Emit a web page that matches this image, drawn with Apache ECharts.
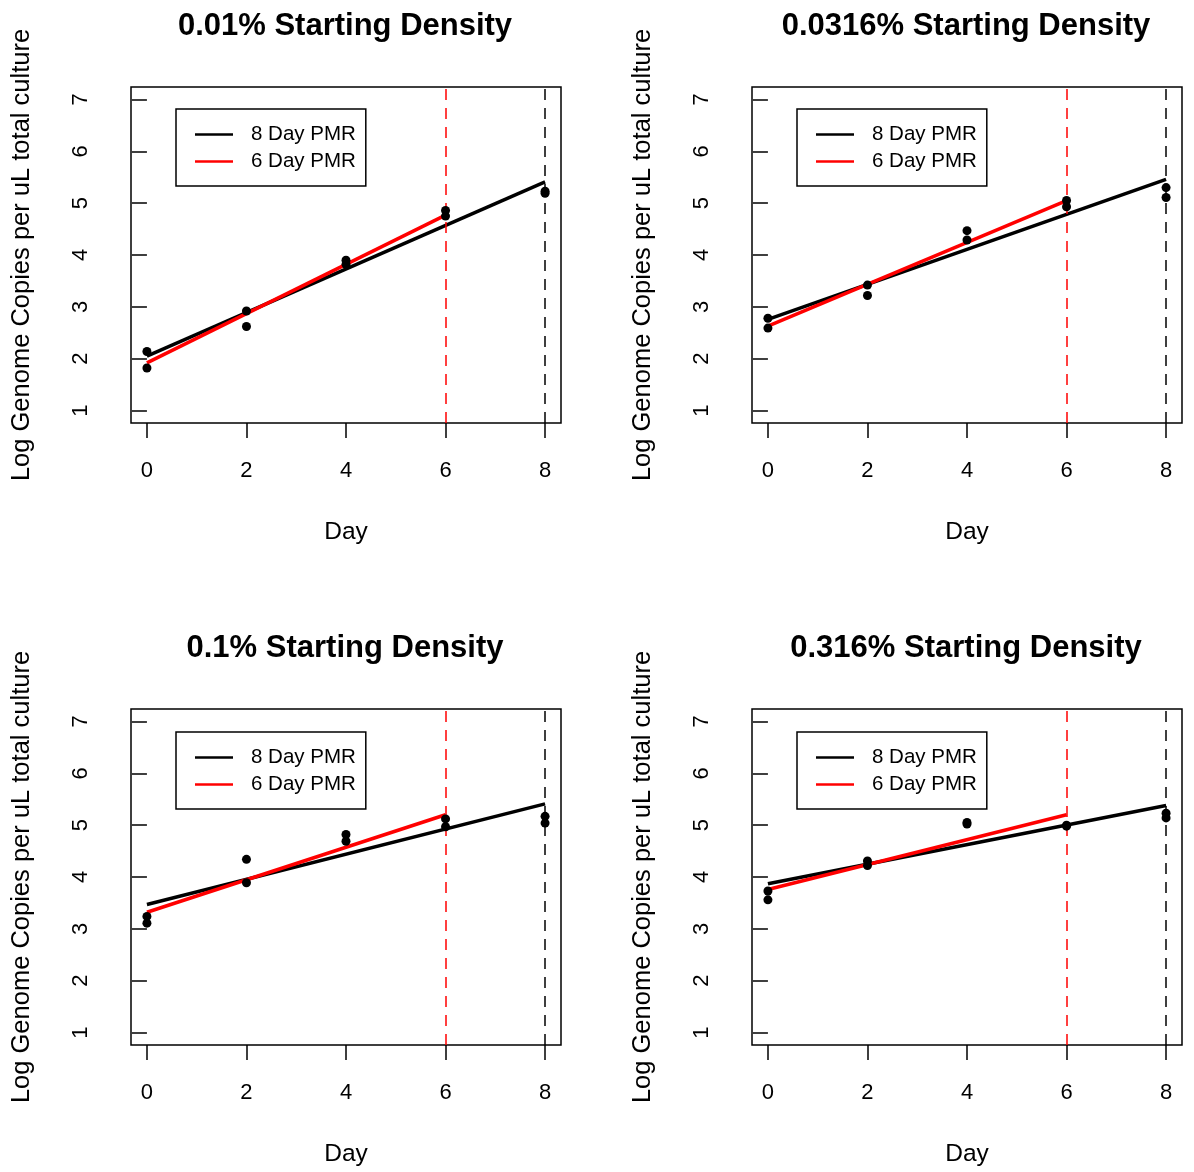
<!DOCTYPE html>
<html>
<head>
<meta charset="utf-8">
<script src="https://cdn.jsdelivr.net/npm/echarts@6/dist/echarts.min.js"></script>
<style>
html,body{margin:0;padding:0;background:#fff;}
#chart{width:1194px;height:1172px;}
</style>
</head>
<body>
<div id="chart"></div>
<script>
// ---- data ----
const days = [0, 2, 4, 6, 8];
const xTicks = [0, 2, 4, 6, 8];
const yTicks = [1, 2, 3, 4, 5, 6, 7];
const titles = ['0.01% Starting Density', '0.0316% Starting Density', '0.1% Starting Density', '0.316% Starting Density'];
const seriesNames = ['8 Day PMR', '6 Day PMR'];
const yTitle = 'Log Genome Copies per uL total culture';
const xTitle = 'Day';

// replicate measurements (log genome copies) per panel
const p1RepA = [2.14, 2.92, 3.90, 4.86, 5.23];
const p1RepB = [1.82, 2.62, 3.82, 4.75, 5.19];
const p2RepA = [2.78, 3.42, 4.47, 5.05, 5.30];
const p2RepB = [2.59, 3.22, 4.29, 4.93, 5.11];
const p3RepA = [3.24, 4.34, 4.82, 5.12, 5.17];
const p3RepB = [3.11, 3.89, 4.69, 4.97, 5.04];
const p4RepA = [3.73, 4.31, 5.05, 5.00, 5.23];
const p4RepB = [3.56, 4.22, 5.02, 4.98, 5.14];

// fitted lines: [value at day 0, value at end day]
const fit8Days = [0, 8];
const fit6Days = [0, 6];
const p1Fit8 = [2.05, 5.41], p1Fit6 = [1.92, 4.77];
const p2Fit8 = [2.76, 5.46], p2Fit6 = [2.63, 5.05];
const p3Fit8 = [3.47, 5.41], p3Fit6 = [3.32, 5.20];
const p4Fit8 = [3.87, 5.38], p4Fit6 = [3.76, 5.20];

const cutoffs = [6, 8];

const panelData = [
  {reps: [p1RepA, p1RepB], fit8: p1Fit8, fit6: p1Fit6},
  {reps: [p2RepA, p2RepB], fit8: p2Fit8, fit6: p2Fit6},
  {reps: [p3RepA, p3RepB], fit8: p3Fit8, fit6: p3Fit6},
  {reps: [p4RepA, p4RepB], fit8: p4Fit8, fit6: p4Fit6}
];

// ---- layout ----
const FONT = '"Liberation Sans", Arial, Helvetica, sans-serif';
const gridPos = [
  {left: 131, top: 87}, {left: 752, top: 87},
  {left: 131, top: 709}, {left: 752, top: 709}
];
const GW = 430, GH = 336;
const titleCenters = [340, 961, 340, 961];
const titleTops = [6, 6, 628, 628];
const legendPos = [
  {left: 176, top: 109}, {left: 797, top: 109},
  {left: 176, top: 732}, {left: 797, top: 732}
];

const option = {
  animation: false,
  backgroundColor: '#fff',
  title: [], grid: [], xAxis: [], yAxis: [], series: [], legend: []
};

panelData.forEach((p, i) => {
  option.title.push({
    text: titles[i], left: titleCenters[i], top: titleTops[i], textAlign: 'center',
    textStyle: {fontFamily: FONT, fontWeight: 'bold', fontSize: 31, color: '#000'}
  });
  option.grid.push({
    left: gridPos[i].left, top: gridPos[i].top, width: GW, height: GH,
    show: true, borderColor: '#000', borderWidth: 1.5, backgroundColor: 'transparent'
  });
  option.xAxis.push({
    gridIndex: i, type: 'value', min: -0.32, max: 8.32,
    name: xTitle, nameLocation: 'middle', nameGap: 97,
    nameTextStyle: {fontFamily: FONT, fontSize: 24.5, color: '#000'},
    axisLine: {show: false},
    splitLine: {show: false},
    axisTick: {show: true, inside: false, length: 15, customValues: xTicks, lineStyle: {color: '#000', width: 1.5}},
    axisLabel: {customValues: xTicks, margin: 37, fontFamily: FONT, fontSize: 22, color: '#000'}
  });
  option.yAxis.push({
    gridIndex: i, type: 'value', min: 0.76, max: 7.24,
    name: yTitle, nameLocation: 'middle', nameGap: 96, nameRotate: 90,
    nameTextStyle: {fontFamily: FONT, fontSize: 25.5, color: '#000'},
    axisLine: {show: false},
    splitLine: {show: false},
    axisTick: {show: true, inside: false, length: 15, customValues: yTicks, lineStyle: {color: '#000', width: 1.5}},
    axisLabel: {customValues: yTicks, rotate: 90, margin: 39, fontFamily: FONT, fontSize: 22, color: '#000'}
  });
  // cutoff dashed lines + points
  const pts = [];
  p.reps.forEach(r => r.forEach((v, k) => pts.push([days[k], v])));
  option.series.push({
    type: 'scatter', name: 'obs' + i, xAxisIndex: i, yAxisIndex: i,
    data: pts, symbol: 'circle', symbolSize: 9, itemStyle: {color: '#000', opacity: 1}, z: 5,
    markLine: {
      silent: true, symbol: ['none', 'none'], label: {show: false},
      data: [
        {xAxis: cutoffs[0], lineStyle: {color: '#ff0000', type: [11, 8], width: 1.5}},
        {xAxis: cutoffs[1], lineStyle: {color: '#000', type: [11, 8], width: 1.5}}
      ]
    }
  });
  option.series.push({
    type: 'line', name: seriesNames[0], xAxisIndex: i, yAxisIndex: i,
    data: fit8Days.map((d, k) => [d, p.fit8[k]]), symbol: 'none',
    lineStyle: {color: '#000', width: 3.5}, itemStyle: {color: '#000'}, z: 3
  });
  option.series.push({
    type: 'line', name: seriesNames[1], xAxisIndex: i, yAxisIndex: i,
    data: fit6Days.map((d, k) => [d, p.fit6[k]]), symbol: 'none',
    lineStyle: {color: '#ff0000', width: 3.5}, itemStyle: {color: '#ff0000'}, z: 4
  });
  option.legend.push({
    data: seriesNames, orient: 'vertical',
    left: legendPos[i].left, top: legendPos[i].top,
    padding: [15, 10, 14, 19], itemGap: 6,
    borderColor: '#000', borderWidth: 1.5, backgroundColor: '#fff',
    icon: 'rect', itemWidth: 38, itemHeight: 2.5,
    selectedMode: false,
    textStyle: {fontFamily: FONT, fontSize: 20.5, color: '#000', lineHeight: 20, padding: [0, 0, 0, 13]}
  });
});

const chart = echarts.init(document.getElementById('chart'), null, {renderer: 'canvas'});
chart.setOption(option);
</script>
</body>
</html>
